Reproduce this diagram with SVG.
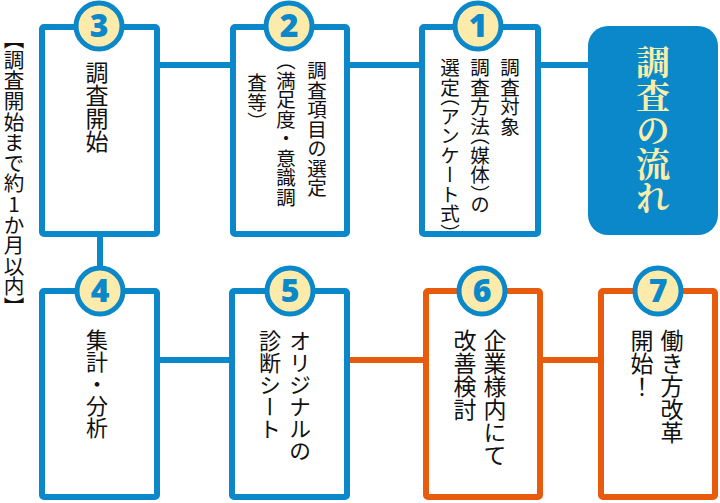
<svg xmlns="http://www.w3.org/2000/svg" width="720" height="503" viewBox="0 0 720 503">
<style>
.bb{fill:#fff;stroke:#0A88C9;stroke-width:6;stroke-linejoin:round}
.ob{fill:#fff;stroke:#E85A0C;stroke-width:6;stroke-linejoin:round}
.cb{stroke:#0A88C9;stroke-width:6;fill:none}
.co{stroke:#E85A0C;stroke-width:6;fill:none}
.circ{fill:#FCEBAA;stroke:#0A88C9;stroke-width:5}
.num{font-family:"Open Sans","Noto Sans",sans-serif;font-weight:800;font-size:32px;fill:#0A88C9;text-anchor:middle}
.vt{font-family:"Noto Sans CJK JP",sans-serif;writing-mode:vertical-rl;fill:#111;font-size:21px}
.h{font-feature-settings:"vhal"}
.title{font-family:"Noto Serif CJK JP","Noto Sans CJK JP",serif;font-weight:bold;writing-mode:vertical-rl;fill:#F9EDAA;font-size:34px}
</style>
<g id="connectors">
<line class="cb" x1="157" y1="65" x2="233" y2="65"/>
<line class="cb" x1="347" y1="65" x2="422" y2="65"/>
<line class="cb" x1="538" y1="65" x2="588" y2="65"/>
<line class="cb" x1="100" y1="234" x2="100" y2="291"/>
<line class="cb" x1="157" y1="360" x2="232" y2="360"/>
<line class="co" x1="347" y1="360" x2="426" y2="360"/>
<line class="co" x1="540" y1="360" x2="601" y2="360"/>
</g>
<g id="side-label">
<text class="vt" x="14" y="29" style="font-size:20.6px;text-orientation:upright">【調査開始まで約1か月以内】</text>
</g>
<g id="title">
<rect x="588" y="26" width="130" height="209" rx="20" fill="#0A88C9"/>
<text class="title" x="653" y="45">調査の流れ</text>
</g>
<g id="step3">
<rect class="bb" x="42" y="27" width="115" height="207" rx="2"/>
<circle class="circ" cx="99" cy="26" r="23"/>
<text class="num" x="99" y="37">3</text>
<text class="vt" x="97" y="61" style="font-size:23px">調査開始</text>
</g>
<g id="step2">
<rect class="bb" x="233" y="27" width="114" height="207" rx="2"/>
<circle class="circ" cx="289" cy="26" r="23"/>
<text class="num" x="289" y="37">2</text>
<text class="vt" x="317" y="61" style="font-size:19.5px">調査項目の選定</text>
<text class="vt" x="286" y="61" style="font-size:19.5px"><tspan class="h">（</tspan>満足度・意識調</text>
<text class="vt" x="257" y="73" style="font-size:19.5px">査等<tspan class="h">）</tspan></text>
</g>
<g id="step1">
<rect class="bb" x="422" y="27" width="116" height="207" rx="2"/>
<circle class="circ" cx="478" cy="26" r="23"/>
<text class="num" x="478" y="37">1</text>
<text class="vt" x="510" y="58" style="font-size:19.5px">調査対象</text>
<text class="vt" x="480" y="58" style="font-size:19.5px">調査方法<tspan class="h">（</tspan>媒体<tspan class="h">）</tspan>の</text>
<text class="vt" x="450" y="58" style="font-size:19.5px">選定<tspan class="h">（</tspan>アンケート式<tspan class="h">）</tspan></text>
</g>
<g id="step4">
<rect class="bb" x="42" y="291" width="115" height="206" rx="2"/>
<circle class="circ" cx="100" cy="291" r="23"/>
<text class="num" x="100" y="302">4</text>
<text class="vt" x="97" y="329" style="font-size:22px">集計・分析</text>
</g>
<g id="step5">
<rect class="bb" x="232" y="291" width="115" height="206" rx="2"/>
<circle class="circ" cx="290" cy="291" r="23"/>
<text class="num" x="290" y="302">5</text>
<text class="vt" x="300" y="330" style="font-size:22px">オリジナルの</text>
<text class="vt" x="270" y="330" style="font-size:22px">診断シート</text>
</g>
<g id="step6">
<rect class="ob" x="426" y="291" width="114" height="206" rx="2"/>
<circle class="circ" cx="482" cy="291" r="23"/>
<text class="num" x="482" y="302">6</text>
<text class="vt" x="495" y="329" style="font-size:23px">企業様内にて</text>
<text class="vt" x="465" y="329" style="font-size:23px">改善検討</text>
</g>
<g id="step7">
<rect class="ob" x="601" y="291" width="114" height="206" rx="2"/>
<circle class="circ" cx="658" cy="291" r="23"/>
<text class="num" x="658" y="302">7</text>
<text class="vt" x="672" y="329" style="font-size:23px">働き方改革</text>
<text class="vt" x="642" y="329" style="font-size:23px">開始！</text>
</g>
</svg>
